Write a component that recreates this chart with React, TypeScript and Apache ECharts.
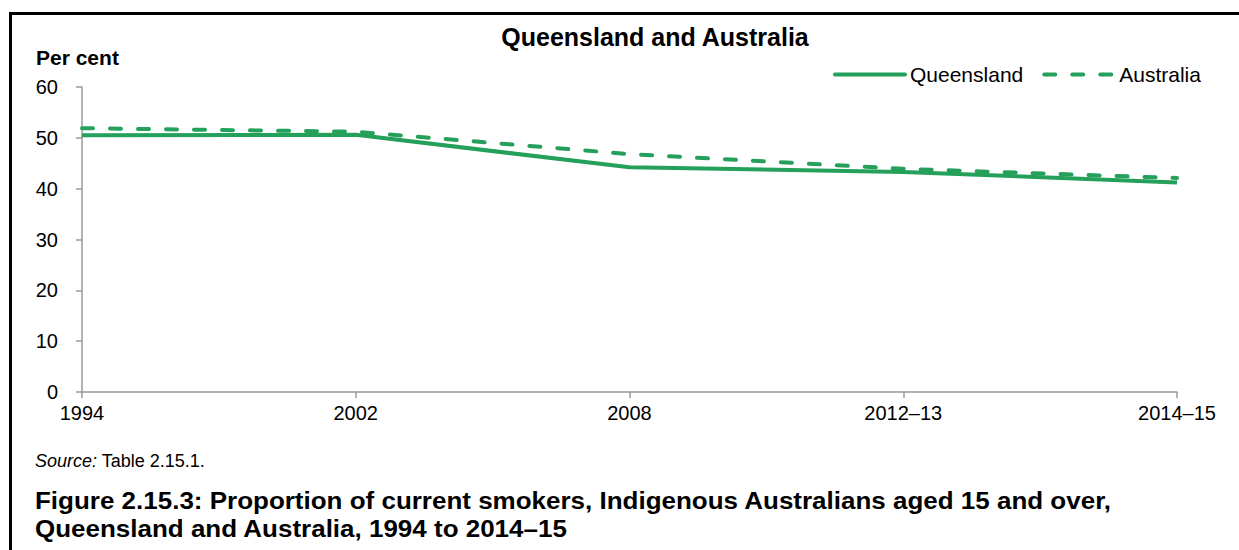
import React, { useEffect, useRef } from "react";
import * as echarts from "echarts";

const categories = ["1994", "2002", "2008", "2012–13", "2014–15"];
const queensland = [50.5, 50.6, 44.2, 43.3, 41.2];
const australia = [51.9, 51.2, 46.8, 43.9, 42.1];
const yTicks = { min: 0, max: 60, interval: 10 };

const GREEN = "#25a05b";
const FONT = "'Liberation Sans', Arial, sans-serif";

export default function App() {
  const ref = useRef<HTMLDivElement>(null);
  useEffect(() => {
    if (!ref.current) return;
    const chart = echarts.init(ref.current, null, { renderer: "svg" });
    chart.setOption({
      animation: false,
      backgroundColor: "#ffffff",
      textStyle: { fontFamily: FONT, color: "#000" },
      title: {
        text: "Queensland and Australia",
        left: 650,
        textAlign: "center",
        top: 19,
        textStyle: { fontFamily: FONT, fontSize: 25, fontWeight: "bold", color: "#000" },
      },
      legend: {
        left: 828,
        top: 59,
        itemWidth: 70,
        itemHeight: 14,
        itemGap: 19,
        itemStyle: { opacity: 0 },
        lineStyle: { width: 4, cap: "round" },
        textStyle: { fontFamily: FONT, fontSize: 21, color: "#000" },
        data: ["Queensland", "Australia"],
      },
      grid: { left: 82, right: 62, top: 87, bottom: 158, containLabel: false },
      xAxis: {
        type: "category",
        data: categories,
        boundaryGap: false,
        axisLine: { lineStyle: { color: "#9a9a9a", width: 1.5 } },
        axisTick: { show: true, length: 6, alignWithLabel: true, lineStyle: { color: "#9a9a9a", width: 1.5 } },
        axisLabel: { fontFamily: FONT, fontSize: 20, color: "#000", margin: 11 },
        splitLine: { show: false },
      },
      yAxis: {
        type: "value",
        min: yTicks.min,
        max: yTicks.max,
        interval: yTicks.interval,
        axisLine: { show: true, lineStyle: { color: "#9a9a9a", width: 1.5 } },
        axisTick: { show: true, length: 6, lineStyle: { color: "#9a9a9a", width: 1.5 } },
        axisLabel: { fontFamily: FONT, fontSize: 20, color: "#000", margin: 24 },
        splitLine: { show: false },
      },
      series: [
        {
          name: "Queensland",
          type: "line",
          data: queensland,
          symbol: "none",
          lineStyle: { color: GREEN, width: 4 },
          itemStyle: { color: GREEN },
        },
        {
          name: "Australia",
          type: "line",
          data: australia,
          symbol: "none",
          lineStyle: { color: GREEN, width: 4, type: [11, 17], cap: "round" },
          itemStyle: { color: GREEN },
        },
      ],
      graphic: [
        {
          type: "rect",
          shape: { x: 10.5, y: 13.5, width: 1400, height: 700 },
          style: { fill: "none", stroke: "#000", lineWidth: 3 },
          silent: true,
        },
        {
          type: "text",
          left: 36,
          top: 47,
          style: { text: "Per cent", font: `bold 21px ${FONT}`, fill: "#000" },
        },
        {
          type: "text",
          left: 35,
          top: 452,
          style: {
            text: "{i|Source:} Table 2.15.1.",
            font: `18px ${FONT}`,
            fill: "#000",
            rich: {
              i: { fontStyle: "italic", fontSize: 18, fontFamily: FONT, fill: "#000" },
            },
          },
        },
        {
          type: "text",
          x: 35,
          y: 487,
          scaleX: 1.13,
          style: {
            text:
              "Figure 2.15.3: Proportion of current smokers, Indigenous Australians aged 15 and over,\nQueensland and Australia, 1994 to 2014–15",
            font: `bold 23px ${FONT}`,
            lineHeight: 28,
            fill: "#000",
          },
        },
      ],
    });
    return () => chart.dispose();
  }, []);
  return (
    <div
      ref={ref}
      style={{ position: "fixed", left: 0, top: 0, width: 1239, height: 550 }}
    />
  );
}
